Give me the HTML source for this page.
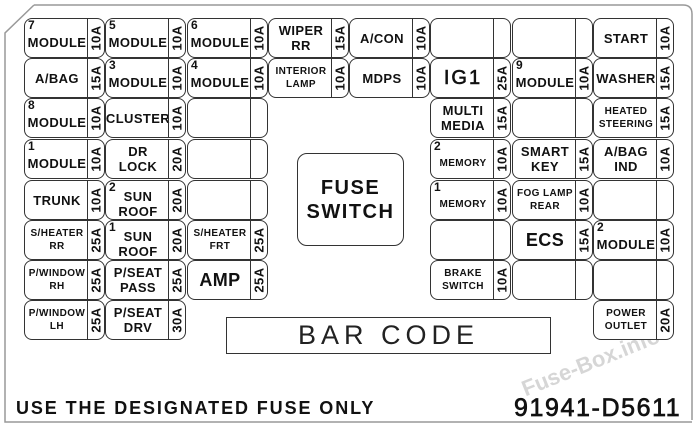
<!DOCTYPE html>
<html><head><meta charset="utf-8"><style>
body{margin:0;width:700px;height:427px;background:#fff;overflow:hidden;position:relative;font-family:"Liberation Sans",sans-serif;font-weight:bold;color:#111}
.c{position:absolute;width:79px;height:38px;border:1.3px solid #333;border-radius:8px;box-sizing:content-box}
.l{position:absolute;left:0;top:0;width:64px;height:38px;display:flex;align-items:center;justify-content:center;text-align:center;font-size:13px;line-height:15px;letter-spacing:0.4px;white-space:nowrap}
.s{position:absolute;right:0;top:0;width:16px;height:38px;border-left:1.3px solid #333}
.s span{position:absolute;left:50%;top:50%;transform:translate(-50%,-50%) rotate(-90deg);font-size:13px;letter-spacing:0.5px;white-space:nowrap}
.n{position:absolute;left:3px;top:0px;font-size:12px;line-height:12px}
.sm{font-size:10px;line-height:13px}
.big{font-size:18px}
</style></head><body>
<svg width="700" height="427" style="position:absolute;left:0;top:0">
<path d="M34 5 L683 5 Q692 5 692 14 L692 420" fill="none" stroke="#999" stroke-width="1.5"/>
<path d="M34 5 L5 33 L5 422 L692 422" fill="none" stroke="#999" stroke-width="1.5"/>
</svg>
<div style="position:absolute;left:518px;top:378px;font-size:22px;color:#ccc;transform:rotate(-22deg);transform-origin:left top;opacity:0.8;white-space:nowrap">Fuse-Box.info</div>
<div id="g"></div>
<div style="position:absolute;left:297px;top:153px;width:105px;height:91px;border:1.3px solid #333;border-radius:10px;display:flex;align-items:center;justify-content:center;text-align:center;font-size:20px;line-height:24px;letter-spacing:1.5px">FUSE<br>SWITCH</div>
<div style="position:absolute;left:226px;top:317px;width:323px;height:35px;border:1.3px solid #333;display:flex;align-items:center;justify-content:center;font-weight:normal;font-size:27px;letter-spacing:5px;color:#222">BAR CODE</div>
<div style="position:absolute;left:16px;top:398px;font-size:18px;letter-spacing:1.9px;white-space:nowrap">USE THE DESIGNATED FUSE ONLY</div>
<div style="position:absolute;left:514px;top:394px;font-size:25px;font-weight:normal;letter-spacing:1.6px;-webkit-text-stroke:0.7px #111;white-space:nowrap">91941-D5611</div>
<script>
var X=[24,105,187,268,349,430,512,593],Y=[18,58,98,139,180,220,260,300];
var D=[
[0,0,'MODULE','10A','7'],[0,1,'A/BAG','15A'],[0,2,'MODULE','10A','8'],[0,3,'MODULE','10A','1'],[0,4,'TRUNK','10A'],[0,5,'<span class=sm>S/HEATER<br>RR</span>','25A'],[0,6,'<span class=sm>P/WINDOW<br>RH</span>','25A'],[0,7,'<span class=sm>P/WINDOW<br>LH</span>','25A'],
[1,0,'MODULE','10A','5'],[1,1,'MODULE','10A','3'],[1,2,'CLUSTER','10A'],[1,3,'DR<br>LOCK','20A'],[1,4,'SUN<br>ROOF','20A','2'],[1,5,'SUN<br>ROOF','20A','1'],[1,6,'P/SEAT<br>PASS','25A'],[1,7,'P/SEAT<br>DRV','30A'],
[2,0,'MODULE','10A','6'],[2,1,'MODULE','10A','4'],[2,2,'',''],[2,3,'',''],[2,4,'',''],[2,5,'<span class=sm>S/HEATER<br>FRT</span>','25A'],[2,6,'<span class=big>AMP</span>','25A'],
[3,0,'WIPER<br>RR','15A'],[3,1,'<span class=sm>INTERIOR<br>LAMP</span>','10A'],
[4,0,'A/CON','10A'],[4,1,'MDPS','10A'],
[5,0,'',''],[5,1,'<span style="font-size:20px;font-weight:normal;-webkit-text-stroke:0.6px #111;letter-spacing:2px">IG1</span>','25A'],[5,2,'MULTI<br>MEDIA','15A'],[5,3,'<span class=sm>MEMORY</span>','10A','2'],[5,4,'<span class=sm>MEMORY</span>','10A','1'],[5,5,'',''],[5,6,'<span class=sm>BRAKE<br>SWITCH</span>','10A'],
[6,0,'',''],[6,1,'MODULE','10A','9'],[6,2,'',''],[6,3,'SMART<br>KEY','15A'],[6,4,'<span class=sm>FOG LAMP<br>REAR</span>','10A'],[6,5,'<span class=big>ECS</span>','15A'],[6,6,'',''],
[7,0,'START','10A'],[7,1,'WASHER','15A'],[7,2,'<span class=sm>HEATED<br>STEERING</span>','15A'],[7,3,'A/BAG<br>IND','10A'],[7,4,'',''],[7,5,'MODULE','10A','2'],[7,6,'',''],[7,7,'<span class=sm>POWER<br>OUTLET</span>','20A']
];
var h='';
D.forEach(function(d){
 var top=d[4]?'padding-top:8px;box-sizing:border-box;':'';
 h+='<div class="c" style="left:'+X[d[0]]+'px;top:'+Y[d[1]]+'px;background:#fff">'+(d[4]?'<div class="n">'+d[4]+'</div>':'')+'<div class="l" style="'+top+'">'+d[2]+'</div><div class="s"><span>'+d[3]+'</span></div></div>';
});
document.getElementById('g').innerHTML=h;
</script>
</body></html>
